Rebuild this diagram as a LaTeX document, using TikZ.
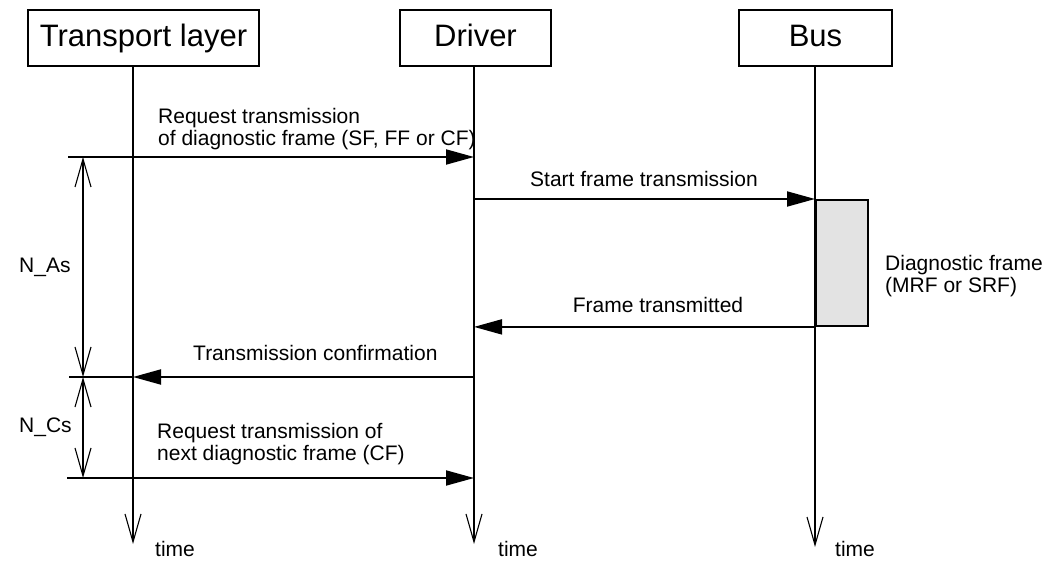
\documentclass[tikz,border=0pt]{standalone}
\usepackage{fontspec}
\setmainfont{Liberation Sans}
\usetikzlibrary{arrows.meta}
\begin{document}
\begin{tikzpicture}[x=1pt,y=-1pt,
  box/.style={draw, line width=1.9pt, inner sep=0pt, font=\fontsize{31}{33}\selectfont, text height=24pt, text depth=6pt},
  life/.style={line width=1.9pt},
  msg/.style={line width=1.9pt, -{Triangle[length=28pt,width=15pt]}},
  barb/.tip={Straight Barb[length=28pt,width=16pt,line width=1.1pt]},
  timeax/.style={line width=1.9pt, -barb},
  dim/.style={line width=1.9pt, barb-barb},
  lbl/.style={inner sep=0pt, font=\fontsize{21}{22}\selectfont},
]
\useasboundingbox (0,0) rectangle (1045,561);

% participant boxes
\node[box, minimum width=231pt, minimum height=56pt] (tl) at (143.5,38) {Transport layer};
\node[box, minimum width=151pt, minimum height=56pt] (drv) at (475.5,38) {Driver};
\node[box, minimum width=153pt, minimum height=56pt] (bus) at (815.5,38) {Bus};

% lifeline ends
\coordinate (tlEnd) at (133,544);
\coordinate (drvEnd) at (474,544);
\coordinate (busEnd) at (815,547);

% diagnostic frame block on the bus
\node[draw, line width=1.9pt, fill=black!11, inner sep=0pt, minimum width=52pt, minimum height=126pt, anchor=north west] (frame) at (815,199) {};

% lifelines
\draw[timeax] (tlEnd |- tl.south) -- (tlEnd);
\draw[timeax] (drvEnd |- drv.south) -- (drvEnd);
\draw[timeax] (busEnd |- bus.south) -- (busEnd);

% extension / start points
\coordinate (e1) at (68,157);
\coordinate (e2) at (69,377);
\coordinate (e3) at (67,478);

% messages
\draw[msg] (e1) -- (e1 -| drvEnd);
\draw[msg] (frame.north -| drvEnd) -- (frame.north west);
\draw[msg] (frame.south west) -- (frame.south -| drvEnd);
\draw[msg] (e2 -| drvEnd) -- (e2 -| tlEnd);
\draw[life] (e2) -- (e2 -| tlEnd);
\draw[msg] (e3) -- (e3 -| drvEnd);

% dimension lines
\coordinate (d1) at (83,157);
\coordinate (d2) at (83,377);
\coordinate (d3) at (83,478);
\draw[dim] (d1) -- (d2);
\draw[dim] (d2) -- (d3);

% labels
\node[lbl, anchor=north west, align=left] (t1) at (158,108) {Request transmission\\of diagnostic frame (SF, FF or CF)};
\node[lbl, anchor=base] (t2) at (644,187) {Start frame transmission};
\node[lbl, anchor=north west, align=left] (t3) at (885,255) {Diagnostic frame\\(MRF or SRF)};
\node[lbl, anchor=base] (t4) at (658,313) {Frame transmitted};
\node[lbl, anchor=base west] (t5) at (193,361) {Transmission confirmation};
\node[lbl, anchor=north west, align=left] (t6) at (157,423) {Request transmission of\\next diagnostic frame (CF)};
\node[lbl, anchor=base west] (nas) at (19,273) {N\_As};
\node[lbl, anchor=base west] (ncs) at (19,432) {N\_Cs};
\node[lbl, anchor=base west] (tm1) at (155,556) {time};
\node[lbl, anchor=base west] (tm2) at (498,556) {time};
\node[lbl, anchor=base west] (tm3) at (835,556) {time};
\end{tikzpicture}
\end{document}
